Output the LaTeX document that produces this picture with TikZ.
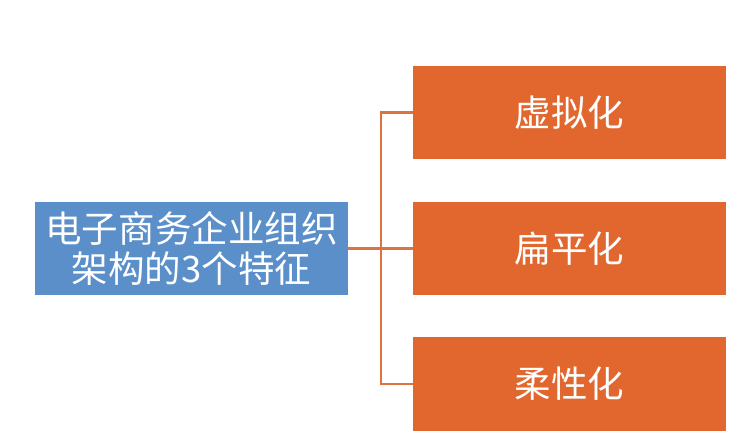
\documentclass[tikz,border=0pt]{standalone}
\usepackage{fontspec}
\newfontfamily\cjk{Noto Sans CJK SC}
\definecolor{boxblue}{HTML}{5B8FC9}
\definecolor{boxorange}{HTML}{E2672F}
\definecolor{lineorange}{HTML}{DD7440}
\begin{document}
\begin{tikzpicture}[x=1bp,y=-1bp,
  box/.style={minimum width=313bp,minimum height=93bp,inner sep=0pt,text=white,font=\cjk\fontsize{36.5bp}{40bp}\selectfont,align=center},
  leftbox/.style={box,fill=boxblue},
  rightbox/.style={box,fill=boxorange},
  conn/.style={draw=lineorange,line width=2.2bp}]
\useasboundingbox (0,0) rectangle (753,446);
\node[leftbox] (main) at (191.5,248.5) {电子商务企业组织\\架构的3个特征};
\node[rightbox] (a) at (569.5,112.5) {虚拟化};
\node[rightbox] (b) at (569.5,248.5) {扁平化};
\node[rightbox] (c) at (569.5,384) {柔性化};
\coordinate (j) at (381,248.5);
\draw[conn] (main.east) -- (b.west);
\draw[conn] (a.west) -| (j) |- (c.west);
\end{tikzpicture}
\end{document}
